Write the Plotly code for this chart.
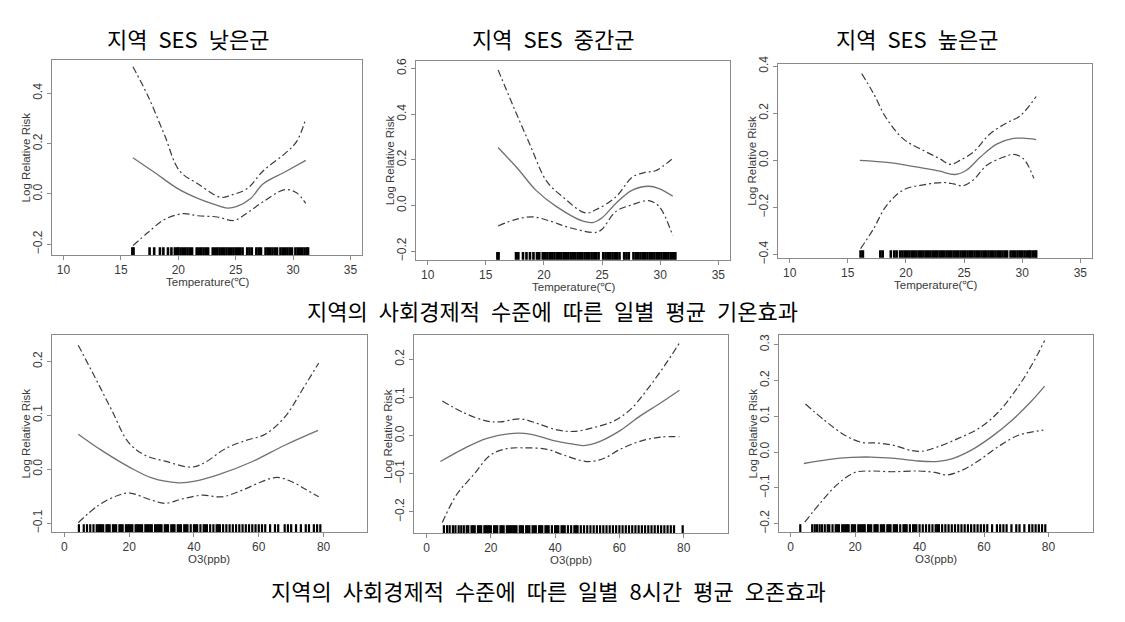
"""
plot.py

GAM exposure-response curves (log relative risk) by area SES level,
for daily mean temperature and 8-hour mean ozone.
"""

import plotly.graph_objects as go

FONT_CJK = "Noto Sans CJK KR"
FONT_AXIS = "Liberation Sans"

# page body keeps its default 8px margin, so the figure is sized to fit inside it
PAGE_MARGIN = 8
FIG_W, FIG_H = 1125 - 2 * PAGE_MARGIN, 622 - 2 * PAGE_MARGIN

# ---------------------------------------------------------------- data
GROUPS = ["지역 SES 낮은군", "지역 SES 중간군", "지역 SES 높은군"]
CAPTION_TEMP = "지역의 사회경제적 수준에 따른 일별 평균 기온효과"
CAPTION_O3 = "지역의 사회경제적 수준에 따른 일별 8시간 평균 오존효과"

Y_TITLE = "Log Relative Risk"
X_TITLE_TEMP = "Temperature(℃)"
X_TITLE_O3 = "O3(ppb)"

TEMP_TICKS = [10, 15, 20, 25, 30, 35]
O3_TICKS = [0, 20, 40, 60, 80]

# temperature, low SES
temp_low_fit_x = [16.05, 18.0, 19.95, 21.7, 23.0, 24.3, 25.1, 26.3, 27.4, 29.2, 31.1]
temp_low_fit_y = [0.144, 0.083, 0.021, -0.018, -0.040, -0.057, -0.050, -0.018, 0.040, 0.085, 0.133]
temp_low_up_x = [16.05, 17.35, 18.8, 20.1, 21.7, 23.7, 24.6, 26.0, 27.4, 29.2, 30.3, 31.1]
temp_low_up_y = [0.506, 0.39, 0.234, 0.092, 0.04, -0.014, -0.005, 0.021, 0.092, 0.157, 0.208, 0.299]
temp_low_lo_x = [16.05, 17.35, 18.8, 20.4, 21.7, 23.4, 24.85, 26.0, 27.4, 29.3, 30.3, 31.1]
temp_low_lo_y = [-0.206, -0.154, -0.102, -0.079, -0.087, -0.092, -0.106, -0.076, -0.031, 0.017, 0.004, -0.038]

# temperature, middle SES
temp_mid_fit_x = [16.06, 17.9, 19.3, 21.05, 23.3, 24.2, 25.0, 26.2, 27.6, 29.0, 29.9, 31.07]
temp_mid_fit_y = [0.254, 0.152, 0.067, -0.004, -0.068, -0.075, -0.054, 0.01, 0.067, 0.084, 0.074, 0.041]
temp_mid_up_x = [16.06, 17.35, 18.8, 20.2, 21.6, 23.6, 24.5, 26.2, 27.6, 28.7, 29.6, 31.07]
temp_mid_up_y = [0.593, 0.436, 0.266, 0.109, 0.038, -0.033, -0.018, 0.038, 0.124, 0.145, 0.152, 0.206]
temp_mid_lo_x = [16.06, 17.6, 19.05, 20.5, 22.2, 24.5, 25.0, 26.2, 27.6, 29.0, 29.9, 31.07]
temp_mid_lo_y = [-0.09, -0.061, -0.05, -0.068, -0.097, -0.118, -0.104, -0.026, 0.003, 0.021, -0.004, -0.132]

# temperature, high SES
temp_high_fit_x = [16.03, 18.6, 20.9, 22.9, 24.2, 25.2, 26.4, 27.8, 29.25, 30.1, 31.2]
temp_high_fit_y = [0.0, -0.01, -0.028, -0.046, -0.06, -0.042, 0.014, 0.069, 0.093, 0.094, 0.088]
temp_high_up_x = [16.2, 17.2, 18.3, 19.8, 21.5, 22.9, 23.8, 24.65, 25.8, 27.2, 28.7, 29.8, 31.2]
temp_high_up_y = [0.368, 0.285, 0.18, 0.09, 0.042, 0.007, -0.017, 0.0, 0.035, 0.111, 0.16, 0.188, 0.271]
temp_high_lo_x = [16.1, 17.2, 18.3, 19.8, 21.5, 23.2, 24.1, 24.9, 25.8, 26.95, 28.4, 29.25, 30.1, 31.0]
temp_high_lo_y = [-0.375, -0.292, -0.194, -0.125, -0.104, -0.094, -0.1, -0.108, -0.083, -0.021, 0.014, 0.025, 0.007, -0.076]

# ozone, low SES
o3_low_fit_x = [4.3, 11.5, 19.8, 27.0, 35.2, 40.4, 47.6, 57.9, 68.2, 78.3]
o3_low_fit_y = [0.065, 0.035, 0.005, -0.016, -0.025, -0.022, -0.010, 0.014, 0.045, 0.072]
o3_low_up_x = [4.3, 9.5, 14.6, 19.8, 24.9, 31.1, 39.3, 43.5, 49.6, 55.8, 62.0, 68.2, 73.3, 78.5]
o3_low_up_y = [0.230, 0.170, 0.110, 0.050, 0.026, 0.015, 0.004, 0.013, 0.038, 0.053, 0.065, 0.098, 0.146, 0.197]
o3_low_lo_x = [4.3, 10.5, 16.7, 20.3, 25.9, 31.1, 36.3, 42.4, 48.6, 54.8, 60.9, 65.6, 70.2, 74.4, 78.5]
o3_low_lo_y = [-0.099, -0.067, -0.048, -0.044, -0.055, -0.063, -0.055, -0.048, -0.051, -0.039, -0.023, -0.015, -0.023, -0.037, -0.051]

# ozone, middle SES
o3_mid_fit_x = [4.3, 11.6, 18.8, 27.1, 32.2, 39.5, 44.7, 48.9, 54.0, 60.2, 66.4, 72.7, 78.7]
o3_mid_fit_y = [-0.068, -0.034, -0.007, 0.006, 0.004, -0.013, -0.021, -0.026, -0.015, 0.013, 0.051, 0.085, 0.119]
o3_mid_up_x = [4.9, 11.6, 18.8, 22.9, 29.2, 34.4, 40.6, 45.8, 52.0, 58.2, 63.4, 68.5, 73.7, 78.7]
o3_mid_up_y = [0.091, 0.06, 0.038, 0.036, 0.044, 0.032, 0.015, 0.011, 0.021, 0.038, 0.068, 0.119, 0.179, 0.243]
o3_mid_lo_x = [4.9, 9.5, 14.7, 19.9, 25.1, 30.2, 37.5, 42.7, 49.9, 55.1, 60.2, 66.4, 72.7, 78.7]
o3_mid_lo_y = [-0.228, -0.153, -0.102, -0.051, -0.034, -0.032, -0.036, -0.051, -0.068, -0.06, -0.036, -0.015, -0.004, -0.003]

# ozone, high SES
o3_high_fit_x = [4.1, 11.6, 18.9, 25.1, 32.3, 39.6, 45.8, 50.0, 56.2, 62.4, 68.6, 74.8, 78.8]
o3_high_fit_y = [-0.032, -0.021, -0.015, -0.014, -0.018, -0.025, -0.026, -0.019, 0.006, 0.043, 0.088, 0.143, 0.184]
o3_high_up_x = [4.6, 10.6, 16.8, 22.0, 27.2, 32.3, 37.5, 40.6, 45.8, 52.0, 58.2, 64.4, 70.7, 74.8, 78.8]
o3_high_up_y = [0.134, 0.088, 0.047, 0.027, 0.025, 0.018, 0.004, 0.002, 0.015, 0.038, 0.065, 0.111, 0.184, 0.243, 0.311]
o3_high_lo_x = [4.4, 9.5, 14.7, 19.9, 25.1, 31.3, 39.6, 44.8, 48.4, 53.1, 58.2, 64.4, 70.7, 78.4]
o3_high_lo_y = [-0.196, -0.139, -0.089, -0.057, -0.053, -0.055, -0.053, -0.057, -0.064, -0.051, -0.025, 0.015, 0.047, 0.061]

# rug: observed exposure values
rug_temp_low = [16.0, 16.1, 17.5, 17.9, 18.4, 18.7, 19.1, 19.4, 19.7, 19.9, 20.0, 20.2, 20.4, 20.6,
                20.8, 21.0, 21.2, 21.6, 21.8, 22.0, 22.2, 22.4, 22.6, 23.0, 23.2, 23.4, 23.6, 23.8,
                24.0, 24.2, 24.4, 24.6, 24.8, 25.0, 25.2, 25.4, 25.6, 26.0, 26.2, 26.4, 26.8, 27.0,
                27.2, 27.6, 27.8, 28.0, 28.2, 28.4, 28.6, 28.9, 29.1, 29.3, 29.5, 29.7, 29.9, 30.2,
                30.4, 30.6, 30.8, 31.0, 31.2, 31.3]
rug_temp_mid = [16.0, 16.1, 17.6, 17.8, 18.2, 18.5, 18.8, 19.1, 19.4, 19.6, 19.9, 20.1, 20.3, 20.5,
                20.7, 20.9, 21.1, 21.3, 21.5, 21.7, 21.9, 22.1, 22.3, 22.5, 22.7, 22.9, 23.1, 23.3,
                23.5, 23.7, 23.9, 24.1, 24.3, 24.5, 24.7, 25.1, 25.3, 25.5, 25.7, 25.9, 26.1, 26.3,
                26.5, 26.9, 27.1, 27.3, 27.7, 27.9, 28.1, 28.3, 28.5, 28.7, 28.9, 29.1, 29.3, 29.5,
                29.7, 29.9, 30.1, 30.3, 30.5, 30.7, 30.9, 31.1, 31.3]
rug_temp_high = [16.1, 16.3, 17.8, 18.0, 18.7, 19.0, 19.2, 19.5, 19.7, 19.9, 20.1, 20.3, 20.5, 20.7,
                 20.9, 21.1, 21.3, 21.5, 21.7, 21.9, 22.1, 22.3, 22.5, 22.7, 22.9, 23.1, 23.3, 23.5,
                 23.7, 23.9, 24.1, 24.3, 24.5, 24.7, 24.9, 25.1, 25.3, 25.5, 25.7, 25.9, 26.1, 26.3,
                 26.5, 26.7, 26.9, 27.1, 27.3, 27.5, 27.7, 27.9, 28.1, 28.3, 28.5, 28.7, 29.0, 29.2,
                 29.4, 29.6, 29.8, 30.0, 30.2, 30.4, 30.6, 30.7, 30.9, 31.1, 31.2]
rug_o3_low = [4.5, 6, 7, 8, 9, 10, 10.5, 11, 11.5, 12, 13, 13.5, 14, 15, 15.5, 16, 17, 17.5, 18, 19,
              19.5, 20, 20.5, 21, 22, 22.5, 23, 23.5, 24, 25, 25.5, 26, 26.5, 27, 28, 28.5, 29, 29.5,
              30, 31, 31.5, 32, 33, 33.5, 34, 35, 35.5, 36, 37, 37.5, 38, 39, 40, 40.5, 41, 42, 43,
              43.5, 44, 45, 46, 47, 47.5, 48, 49, 50, 51, 52, 53, 54, 55, 56, 57, 58, 59, 60, 61, 62,
              63.5, 65, 66, 68, 69, 70, 71.5, 73, 74.5, 75.5, 77, 78, 79]
rug_o3_mid = [5.4, 6.4, 7.2, 8.2, 9, 10, 10.8, 11.6, 12.5, 13, 14, 14.5, 15, 16, 16.5, 17, 18, 18.5,
              19, 19.5, 20, 21, 21.5, 22, 23, 23.5, 24, 25, 25.5, 26, 26.5, 27, 27.5, 28, 29, 29.5,
              30, 31, 31.5, 32, 33, 33.5, 34, 35, 35.5, 36, 37, 37.5, 38, 39, 40, 40.5, 41, 42, 42.5,
              43, 44, 45, 46, 46.5, 47, 48, 49, 50, 51, 52, 53, 54, 55, 56, 57, 58, 59, 60, 61, 62, 63,
              64, 65, 66, 67, 68, 69, 70, 71, 72, 73, 74, 75, 76, 77, 79.7]
rug_o3_high = [3.0, 6.7, 7.5, 8.2, 9.0, 9.7, 10.6, 11.5, 12, 13, 14, 14.5, 15, 16, 16.5, 17, 17.5,
               18, 19, 19.5, 20, 21, 21.5, 22, 22.5, 23, 24, 24.5, 25, 26, 26.5, 27, 28, 28.5, 29,
               30, 30.5, 31, 32, 32.5, 33, 34, 35, 35.5, 36, 37, 38, 38.5, 39, 40, 41, 42, 43, 44,
               45, 45.5, 46, 47, 48, 49, 50, 51, 52, 53, 54, 55, 56, 57, 58, 59, 60, 61, 62.5, 64,
               65, 66, 67, 68.5, 70, 71, 72.5, 74, 75, 76, 77, 78, 79]

# ---------------------------------------------------------------- panels
# pixel box on the page (left, top, right, bottom) and axis ranges of each R panel
PANELS = [
    dict(box=(52, 53, 362, 253), xr=[9, 36], yr=[-0.243, 0.533], dtick=0.2, ticks=TEMP_TICKS,
         xtitle=X_TITLE_TEMP, rug=rug_temp_low, rugw=2.6,
         fit=(temp_low_fit_x, temp_low_fit_y), up=(temp_low_up_x, temp_low_up_y),
         lo=(temp_low_lo_x, temp_low_lo_y)),
    dict(box=(416, 54, 730, 258), xr=[9, 36], yr=[-0.238, 0.633], dtick=0.2, ticks=TEMP_TICKS,
         xtitle=X_TITLE_TEMP, rug=rug_temp_mid, rugw=2.6,
         fit=(temp_mid_fit_x, temp_mid_fit_y), up=(temp_mid_up_x, temp_mid_up_y),
         lo=(temp_mid_lo_x, temp_mid_lo_y)),
    dict(box=(778, 57, 1092, 256), xr=[9, 36], yr=[-0.414, 0.41], dtick=0.2, ticks=TEMP_TICKS,
         xtitle=X_TITLE_TEMP, rug=rug_temp_high, rugw=2.6,
         fit=(temp_high_fit_x, temp_high_fit_y), up=(temp_high_up_x, temp_high_up_y),
         lo=(temp_high_lo_x, temp_high_lo_y)),
    dict(box=(52, 335, 367, 537), xr=[-3.8, 93.4], yr=[-0.116, 0.249], dtick=0.1, ticks=O3_TICKS,
         xtitle=X_TITLE_O3, rug=rug_o3_low, rugw=2.2,
         fit=(o3_low_fit_x, o3_low_fit_y), up=(o3_low_up_x, o3_low_up_y),
         lo=(o3_low_lo_x, o3_low_lo_y)),
    dict(box=(414, 335, 728, 538), xr=[-3.9, 93.8], yr=[-0.255, 0.264], dtick=0.1, ticks=O3_TICKS,
         xtitle=X_TITLE_O3, rug=rug_o3_mid, rugw=2.2,
         fit=(o3_mid_fit_x, o3_mid_fit_y), up=(o3_mid_up_x, o3_mid_up_y),
         lo=(o3_mid_lo_x, o3_mid_lo_y)),
    dict(box=(779, 335, 1093, 537), xr=[-3.6, 93.8], yr=[-0.223, 0.327], dtick=0.1, ticks=O3_TICKS,
         xtitle=X_TITLE_O3, rug=rug_o3_high, rugw=2.2,
         fit=(o3_high_fit_x, o3_high_fit_y), up=(o3_high_up_x, o3_high_up_y),
         lo=(o3_high_lo_x, o3_high_lo_y)),
]

FIT_LINE = dict(color="#707070", width=1.3)
CI_LINE = dict(color="#3c3c3c", width=1.2, dash="7px,3px,2px,3px")
BOX_COLOR = "#8a8a8a"
TEXT_COLOR = "#3a3a3a"


def fx(px):
    """Page pixel x -> paper fraction."""
    return (px - PAGE_MARGIN) / FIG_W


def fy(py):
    """Page pixel y -> paper fraction."""
    return 1 - (py - PAGE_MARGIN) / FIG_H


def add_panel(fig, i, p):
    """
    One R-style panel: fit, confidence band lines, rug and box.
    """

    n = "" if i == 0 else str(i + 1)
    xa, ya = "x" + n, "y" + n

    for key, line in (("fit", FIT_LINE), ("up", CI_LINE), ("lo", CI_LINE)):
        xs, ys = p[key]
        fig.add_trace(
            go.Scatter(
                x=xs, y=ys, mode="lines", line=dict(shape="spline", **line),
                xaxis=xa, yaxis=ya, hoverinfo="skip",
            )
        )

    fig.add_trace(
        go.Scatter(
            x=p["rug"], y=[p["yr"][0]] * len(p["rug"]), mode="markers",
            marker=dict(symbol="line-ns", size=11, line=dict(color="black", width=p["rugw"])),
            xaxis=xa, yaxis=ya, hoverinfo="skip",
        )
    )

    left, top, right, bottom = p["box"]
    axis_common = dict(
        showline=True, mirror=True, linecolor=BOX_COLOR, linewidth=1,
        ticks="outside", ticklen=4, tickcolor=BOX_COLOR, showgrid=False, zeroline=False,
        tickfont=dict(family=FONT_AXIS, size=12, color=TEXT_COLOR),
    )

    fig.update_layout(**{
        "xaxis" + n: dict(
            domain=[fx(left), fx(right)], range=p["xr"], tickvals=p["ticks"],
            anchor=ya, **axis_common,
        ),
        "yaxis" + n: dict(
            domain=[fy(bottom), fy(top)], range=p["yr"], dtick=p["dtick"], tick0=0,
            tickformat=".1f", tickangle=-90, anchor=xa, **axis_common,
        ),
    })

    fig.add_annotation(
        text=Y_TITLE, textangle=-90, showarrow=False,
        xref=xa + " domain", yref=ya + " domain", x=0, y=0.5, xanchor="center",
        yanchor="middle", xshift=-26, font=dict(family=FONT_AXIS, size=11.5, color=TEXT_COLOR),
    )
    fig.add_annotation(
        text=p["xtitle"], showarrow=False,
        xref=xa + " domain", yref=ya + " domain", x=0.5, y=0, xanchor="center",
        yanchor="middle", yshift=-27, font=dict(family=FONT_AXIS, size=11.5, color=TEXT_COLOR),
    )


fig = go.Figure()

for i, p in enumerate(PANELS):
    add_panel(fig, i, p)

# group titles above the temperature row (centres)
for name, xc in zip(GROUPS, (188, 553, 917)):
    fig.add_annotation(
        text=name.replace(" ", "\u2002"), showarrow=False, xref="paper", yref="paper",
        x=fx(xc), y=fy(31), xanchor="center", yanchor="middle",
        font=dict(family=FONT_CJK, size=22, color="black"),
    )

for text, xc, yc in ((CAPTION_TEMP, 552, 309), (CAPTION_O3, 548, 597)):
    fig.add_annotation(
        text=text.replace(" ", "\u2002"), showarrow=False, xref="paper", yref="paper",
        x=fx(xc), y=fy(yc), xanchor="center", yanchor="middle",
        font=dict(family=FONT_CJK, size=22, color="black"),
    )

fig.update_layout(
    width=FIG_W, height=FIG_H,
    margin=dict(l=0, r=0, t=0, b=0),
    paper_bgcolor="white", plot_bgcolor="white",
    showlegend=False,
)

fig.write_html("out.html")
